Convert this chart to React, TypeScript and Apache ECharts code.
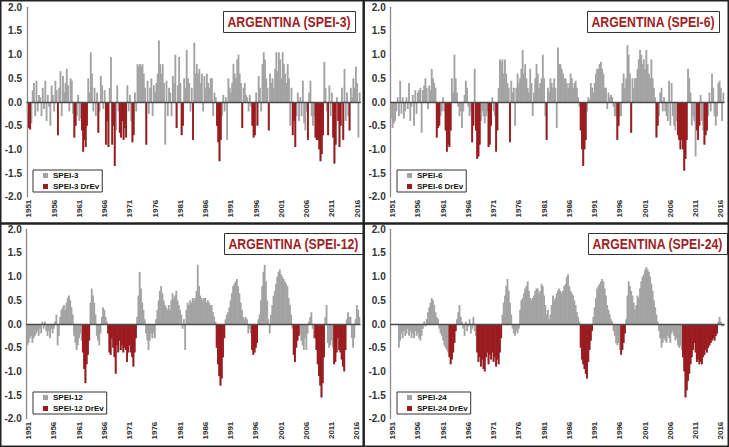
import React, { useEffect, useRef } from "react";
import * as echarts from "echarts";

// ---- categories: quarters 1951Q1 .. 2016Q4 ----
const QUARTERS = ["Q1", "Q2", "Q3", "Q4"];
const YEARS = Array.from({ length: 66 }, (_, i) => 1951 + i);
const categories = YEARS.flatMap((y) => QUARTERS.map((q) => `${y}${q}`));

// ---- SPEI-3 (quarterly) ----
const spei3 = [
  -0.25, -0.55,
  -0.58, -0.45, 0.25, 0.40, -0.30, 0.45, -0.20, 0.15, 0.10, -0.30, 0.30, -0.15,
  0.45, -0.40, 0.15, -0.10, -0.50, 0.35, 0.15, -0.20, 0.45, 0.25, -0.70, 0.30,
  0.65, -0.30, 0.55, 0.20, 0.40, 0.70, 0.35, -0.20, 0.50, 0.45, -0.25, -0.75,
  -0.50, -0.30, 0.15, -0.40, -0.35, -0.60, -1.05, -0.80, -0.95, -0.50, 0.50, 0.20,
  1.05, 0.60, -0.20, 0.30, -0.30, 0.20, -0.65, -0.20, 0.55, 0.35, -0.15, 0.25,
  -0.90, -0.40, -0.95, 0.30, 0.95, -0.90, -0.50, -1.35, -0.60, 0.35, -0.20, -0.65,
  -0.75, -0.40, -0.80, -0.55, -0.75, 0.35, -0.20, 0.15, -0.40, -0.85, -0.70, 0.20,
  -0.20, 0.80, 0.75, 0.80, 0.75, 0.80, 0.60, 0.30, -0.90, 0.45, -0.25, 0.30,
  0.50, -0.30, 0.35, 0.20, 0.40, 0.60, 1.30, 0.80, 0.60, 0.80, 0.40, -0.90,
  0.45, -0.30, 0.30, 0.20, -0.30, 0.55, 0.40, 1.00, -0.55, 0.35, 0.95, 0.40,
  -0.70, -0.50, 0.50, 0.30, 1.10, 0.50, 0.40, -0.20, 0.30, -0.80, 1.25, 0.60,
  0.80, 0.60, 0.70, 0.40, 0.60, -0.20, 0.55, 0.30, 0.60, 0.40, 0.30, 0.50,
  0.50, -0.30, 0.20, 0.10, -0.50, -0.85, -1.25, -0.80, -0.30, 0.15, -0.20, 0.10,
  -0.80, 0.50, 0.30, 0.20, 0.40, 0.80, 0.60, 0.50, 0.90, 1.00, 0.60, 0.40,
  -0.55, 0.30, 0.40, 0.15, 0.10, -0.20, 0.15, -0.10, -0.50, -0.75, -0.70, 0.20,
  -0.50, 0.55, 0.30, -0.20, 0.80, 1.05, 0.90, 0.50, 0.30, -0.60, 0.60, 0.40,
  0.50, 0.30, 0.70, 1.05, 0.65, 1.05, 0.90, 0.50, 1.05, 0.80, 0.60, 0.40,
  0.80, 0.50, -0.50, 0.30, -0.70, -0.40, -0.95, -0.30, 0.20, -0.40, 0.10, -0.30,
  0.45, -0.45, -0.60, -0.20, -0.80, 0.20, 0.45, -0.30, -0.50, -0.30, -0.75, -0.80,
  -0.80, -1.00, -1.25, -1.10, -0.70, 0.85, 0.30, -0.20, -0.70, 0.35, -0.30, 0.20,
  -0.75, -1.30, -0.90, 0.10, -0.40, -0.95, -0.50, 0.30, -0.80, 0.70, -0.40, 0.20,
  -0.30, -0.60, 0.30, 0.10, 0.50, 0.30, 0.75, 0.40,
  -0.75, 0.20,
];
const spei3Events = [
  ["1951Q2", "1951Q3"], ["1957Q1", "1957Q1"], ["1960Q2", "1960Q3"], ["1961Q4", "1962Q4"],
  ["1965Q1", "1965Q1"], ["1966Q3", "1967Q1"], ["1967Q4", "1968Q2"], ["1969Q2", "1970Q3"],
  ["1971Q4", "1972Q1"], ["1974Q3", "1974Q3"], ["1980Q3", "1980Q3"], ["1981Q3", "1981Q4"],
  ["1983Q4", "1983Q4"], ["1988Q3", "1989Q2"], ["1993Q3", "1993Q3"], ["1995Q3", "1996Q3"],
  ["1998Q4", "1998Q4"], ["2003Q3", "2004Q1"], ["2006Q3", "2006Q3"], ["2008Q1", "2009Q3"],
  ["2010Q3", "2010Q3"], ["2011Q3", "2012Q1"], ["2012Q3", "2013Q1"], ["2013Q3", "2013Q3"],
  ["2014Q4", "2014Q4"],
];

// ---- SPEI-6 ----
const spei6 = [
  -0.35, -0.55,
  -0.45, -0.40, -0.20, 0.10, -0.30, 0.45, -0.25, 0.10, -0.35, -0.20, 0.10, -0.15,
  0.40, -0.40, -0.10, 0.15, -0.50, 0.25, -0.25, 0.20, 0.25, 0.30, -0.65, 0.25,
  0.35, 0.50, 0.30, -0.15, 0.35, 0.25, 0.70, 0.50, 0.40, 0.30, -0.75, -0.55,
  -0.50, -0.30, -0.20, 0.10, -0.20, -0.60, -1.05, -0.90, -0.95, -0.60, 0.50, 0.20,
  1.00, 0.50, 0.20, -0.10, -0.30, -0.20, -0.55, -0.20, 0.15, 0.45, 0.30, -0.10,
  -0.30, -0.20, -0.85, -0.50, 0.70, -0.60, -1.20, -1.15, -0.90, -0.40, -0.20, -0.30,
  -0.45, -0.30, -0.20, -0.95, -0.90, -0.50, 0.10, -0.20, -0.30, -1.05, -0.60, 0.30,
  0.90, 0.85, 0.90, 0.60, 0.90, 0.60, 0.40, 0.30, -0.85, 0.45, 0.20, 0.30,
  -0.50, 0.30, 0.60, 0.40, 0.50, 0.70, 1.10, 0.60, 0.80, 0.50, 0.30, 0.20,
  0.70, 0.40, -0.30, 0.20, 0.50, 0.80, 0.60, 0.30, 0.40, 0.50, 1.00, 0.50,
  -0.30, -0.80, 0.30, 0.20, 0.50, 0.40, 0.30, 0.50, 0.30, -0.55, 1.15, 0.80,
  0.80, 0.70, 0.60, 0.50, 0.50, 0.40, 0.30, 0.40, 0.60, 0.50, 0.30, 0.40,
  0.45, 0.30, 0.10, -0.10, -0.60, -1.00, -1.35, -1.00, -0.80, -0.20, 0.10, 0.05,
  0.40, 0.30, 0.20, 0.40, 0.60, 0.70, 0.70, 0.80, 0.85, 0.70, 0.60, 0.30,
  0.30, -0.15, 0.20, 0.10, 0.15, 0.10, -0.10, -0.30, -0.30, -0.80, -0.50, -0.30,
  -0.30, 0.40, 0.60, 0.30, 0.50, 1.20, 1.00, 0.60, -0.65, 0.50, 0.30, 0.50,
  0.50, 0.70, 0.90, 1.10, 1.00, 0.80, 0.90, 0.70, 1.10, 0.80, 0.60, 0.50,
  0.90, 0.50, 0.30, 0.10, -0.75, -0.50, -0.30, 0.20, 0.30, -0.20, 0.10, -0.20,
  -0.30, -0.40, 0.45, -0.50, 0.40, -0.30, -0.50, -0.60, -0.40, -0.70, -0.80, -1.00,
  -0.80, -1.00, -1.45, -1.20, -0.80, 0.70, 0.50, 0.20, -0.50, -0.30, -0.40, -1.15,
  -0.60, -0.80, -0.50, 0.15, -0.40, -0.60, -0.90, -0.70, -0.60, -0.30, 0.20, -0.20,
  0.60, 0.30, -0.30, -0.50, -0.30, 0.40, 0.45, 0.30,
  -0.40, 0.20,
];
const spei6Events = [
  ["1960Q1", "1960Q3"], ["1961Q4", "1962Q4"], ["1967Q1", "1967Q2"], ["1967Q4", "1968Q3"],
  ["1970Q2", "1970Q4"], ["1971Q4", "1972Q1"], ["1974Q3", "1974Q3"], ["1981Q4", "1981Q4"],
  ["1988Q3", "1989Q3"], ["1995Q4", "1996Q1"], ["1998Q3", "1998Q3"], ["2003Q3", "2003Q4"],
  ["2007Q4", "2009Q3"], ["2011Q3", "2012Q1"], ["2013Q1", "2013Q3"],
];

// ---- SPEI-12 (one row per year) ----
const spei12 = [
  -0.45, -0.40, -0.30, -0.25, // 1951
  -0.40, -0.30, -0.25, -0.20,
  -0.15, -0.25, -0.10, -0.20,
  0.05, -0.10, 0.05, -0.15,
  -0.25, -0.15, -0.30, -0.10, // 1955
  -0.20, -0.10, 0.05, 0.20,
  -0.45, -0.25, 0.15, 0.30,
  0.35, 0.40, 0.30, 0.45,
  0.55, 0.60, 0.50, 0.35,
  0.20, -0.25, -0.40, -0.55, // 1960
  -0.45, -0.30, -0.20, -0.35,
  -0.60, -0.95, -1.25, -0.85,
  -0.65, -0.35, 0.45, 0.75,
  0.60, 0.45, 0.20, -0.25,
  -0.35, -0.45, -0.20, 0.15, // 1965
  0.35, 0.30, 0.15, 0.05,
  -0.20, -0.60, -0.65, -0.30,
  -0.50, -0.70, -1.05, -0.45,
  -0.60, -0.35, -0.55, -0.45,
  -0.60, -0.50, -0.55, -0.80, // 1970
  -0.60, -0.45, -0.60, -0.70,
  -0.90, -0.60, -0.30, 0.15,
  0.60, 1.10, 0.75, 0.45,
  0.30, 0.10, -0.20, -0.35,
  -0.55, -0.35, -0.20, -0.30, // 1975
  -0.20, -0.30, 0.10, 0.30,
  0.50, 0.70, 0.80, 0.65,
  0.50, 0.40, 0.35, 0.30,
  0.40, 0.30, 0.50, 0.65,
  0.55, 0.60, 0.70, 0.50, // 1980
  0.40, 0.30, 0.20, -0.10,
  0.10, -0.55, 0.30, 0.45,
  0.40, 0.50, 0.45, 0.55,
  0.50, 0.55, 0.70, 1.25,
  0.80, 0.60, 0.55, 0.50, // 1985
  0.55, 0.55, 0.45, 0.50,
  0.45, 0.40, 0.40, 0.25,
  0.15, 0.05, -0.50, -0.85,
  -1.10, -1.30, -1.15, -0.70,
  -0.30, 0.10, 0.20, 0.25, // 1990
  0.35, 0.50, 0.65, 0.80,
  0.85, 0.90, 0.95, 0.80,
  0.65, 0.45, 0.30, 0.15,
  0.10, 0.15, 0.10, -0.20,
  -0.10, -0.20, -0.55, -0.65, // 1995
  -0.60, -0.50, -0.40, 0.10,
  0.20, 0.50, 0.80, 1.10,
  1.25, 0.90, 0.50, 0.10,
  -0.20, 0.20, 0.40, 0.60,
  0.70, 0.85, 1.00, 1.10, // 2000
  1.15, 1.05, 1.00, 0.95,
  0.90, 0.85, 0.80, 0.55,
  0.40, 0.20, -0.10, -0.65,
  -0.80, -0.50, -0.35, -0.25,
  -0.20, -0.35, -0.45, -0.55, // 2005
  -0.30, -0.55, -0.20, 0.05,
  0.15, 0.25, -0.10, -0.30,
  -0.30, -0.55, -0.85, -1.10,
  -1.30, -1.55, -1.25, -0.70,
  0.15, 0.40, -0.40, -0.50, // 2010
  -0.45, -0.35, -0.50, -0.85,
  -0.80, -0.60, -0.30, -0.55,
  -0.60, -0.75, -0.90, -1.00,
  -0.55, 0.10, 0.25, 0.15,
  0.15, -0.30, -0.50, -0.30, // 2015
  0.10, 0.40, 0.30, 0.15,
];
const spei12Events = [
  ["1962Q1", "1963Q2"], ["1967Q1", "1972Q3"], ["1988Q3", "1990Q1"], ["1995Q3", "1996Q3"],
  ["2003Q4", "2004Q4"], ["2008Q1", "2009Q4"], ["2011Q4", "2014Q1"],
];

// ---- SPEI-24 (one row per year; first months undefined) ----
const spei24 = [
  null, null, null, null, // 1951
  null, null, -0.50, -0.35,
  -0.20, -0.30, -0.15, -0.25,
  -0.20, -0.10, -0.25, -0.15,
  -0.30, -0.20, -0.30, -0.15, // 1955
  -0.25, -0.20, -0.30, -0.35,
  -0.25, -0.10, 0.05, -0.05,
  0.10, 0.25, 0.35, 0.45,
  0.55, 0.50, 0.40, 0.25,
  0.15, 0.10, -0.10, -0.20, // 1960
  -0.25, -0.35, -0.45, -0.50,
  -0.55, -0.60, -0.70, -0.85,
  -0.75, -0.60, -0.40, -0.15,
  0.10, 0.25, 0.40, 0.15,
  0.05, -0.10, -0.25, 0.05, // 1965
  -0.15, -0.05, 0.10, -0.20,
  -0.10, 0.15, -0.15, -0.25,
  -0.60, -0.80, -0.70, -0.90,
  -0.75, -0.95, -1.00, -0.70,
  -0.60, -0.85, -0.65, -0.75, // 1970
  -0.60, -0.80, -0.70, -0.90,
  -0.75, -0.85, -0.60, -0.30,
  0.20, 0.45, 0.60, 0.80,
  0.95, 0.70, 0.45, 0.20,
  -0.10, -0.20, -0.25, -0.15, // 1975
  -0.20, -0.10, 0.30, 0.50,
  0.55, 0.65, 0.75, 0.80,
  0.90, 0.70, 0.55, 0.50,
  0.55, 0.60, 0.70, 0.75,
  0.75, 0.65, 0.70, 0.85, // 1980
  0.80, 0.60, 0.40, 0.20,
  0.30, 0.10, 0.20, 0.40,
  0.60, 0.50, 0.55, 0.65,
  0.70, 0.75, 0.70, 0.65,
  0.70, 0.80, 0.85, 1.00, // 1985
  1.05, 0.80, 0.70, 0.65,
  0.60, 0.50, 0.40, 0.25,
  0.15, 0.05, -0.50, -0.75,
  -0.85, -0.95, -1.05, -1.15,
  -0.80, -0.55, -0.35, -0.15, // 1990
  0.15, 0.35, 0.55, 0.75,
  0.80, 0.85, 0.90, 0.95,
  0.90, 0.75, 0.60, 0.40,
  0.30, 0.20, 0.10, 0.05,
  -0.15, -0.25, -0.40, -0.45, // 1995
  -0.40, -0.55, -0.65, -0.55,
  -0.40, -0.20, 0.10, 0.60,
  0.90, 0.80, 0.70, 0.60,
  0.45, 0.30, 0.40, 0.60,
  0.55, 0.75, 0.90, 1.00, // 2000
  1.05, 1.15, 1.20, 1.15,
  1.10, 1.00, 0.85, 0.70,
  0.50, 0.35, 0.20, 0.05,
  -0.15, -0.30, -0.50, -0.40,
  -0.30, -0.35, -0.40, -0.25, // 2005
  -0.30, -0.40, -0.20, -0.15,
  -0.25, -0.35, -0.30, -0.45,
  -0.50, -0.45, -0.55, -0.70,
  -1.00, -1.55, -1.40, -1.20,
  -1.05, -0.85, -0.70, -0.55, // 2010
  -0.40, -0.60, -0.80, -0.75,
  -0.85, -0.80, -0.85, -0.70,
  -0.65, -0.55, -0.60, -0.50,
  -0.45, -0.40, -0.35, -0.30,
  -0.35, -0.25, -0.20, 0.05, // 2015
  0.15, 0.05, -0.05, -0.05,
];
const spei24Events = [
  ["1962Q3", "1963Q4"], ["1968Q1", "1972Q4"], ["1988Q3", "1990Q4"], ["1996Q3", "1997Q2"],
  ["2008Q4", "2015Q3"],
];

// ---- layout & style (kept apart from the data) ----
const GRAY = "#a3a3a3";
const RED = "#9b1b1f";
const TITLE_RED = "#9e1f26";
const FONT = "'Liberation Sans', Arial, sans-serif";
const TITLE_SIZE = 15;
const TITLE_SCALE = 0.82;
const BAR_OVERLAP = 0.6; // px added to each bar so that neighbouring bars meet without seams

const panels = [
  { key: "SPEI-3", values: spei3, events: spei3Events, left: 27, top: 7.3, titleLeft: 223, titleTop: 11, legendLeft: 33, legendTop: 170 },
  { key: "SPEI-6", values: spei6, events: spei6Events, left: 390.7, top: 7.3, titleLeft: 587, titleTop: 11, legendLeft: 397, legendTop: 170 },
  { key: "SPEI-12", values: spei12, events: spei12Events, left: 26.7, top: 229.3, titleLeft: 224, titleTop: 233, legendLeft: 33, legendTop: 392 },
  { key: "SPEI-24", values: spei24, events: spei24Events, left: 390.7, top: 229.3, titleLeft: 588, titleTop: 233, legendLeft: 397, legendTop: 392 },
];

function droughtPoints(values: (number | null)[], events: string[][]) {
  const ranges = events.map(([a, b]) => [categories.indexOf(a), categories.indexOf(b)]);
  const out: [number, number][] = [];
  values.forEach((v, i) => {
    if (v != null && v < 0 && ranges.some(([a, b]) => i >= a && i <= b)) out.push([i, v]);
  });
  return out;
}

function allPoints(values: (number | null)[]) {
  const out: [number, number][] = [];
  values.forEach((v, i) => {
    if (v != null) out.push([i, v]);
  });
  return out;
}

function barRenderer(color: string) {
  return (params: any, api: any) => {
    const idx = api.value(0);
    const v = api.value(1);
    const base = api.coord([idx, 0]);
    const top = api.coord([idx, v]);
    const w = api.size([1, 0])[0];
    return {
      type: "rect",
      shape: {
        x: base[0] - w / 2 - BAR_OVERLAP / 2,
        y: Math.min(base[1], top[1]),
        width: w + BAR_OVERLAP,
        height: Math.abs(top[1] - base[1]),
      },
      style: { fill: color },
    };
  };
}

function measure(text: string, font: string) {
  const c = document.createElement("canvas").getContext("2d");
  if (!c) return text.length * 9;
  c.font = font;
  return c.measureText(text).width;
}

function titleGraphic(p: any) {
  const text = `ARGENTINA (${p.key})`;
  const w = measure(text, `bold ${TITLE_SIZE}px 'Liberation Sans', Arial, sans-serif`) * TITLE_SCALE;
  return {
    type: "group",
    x: p.titleLeft,
    y: p.titleTop,
    z: 50,
    children: [
      { type: "rect", shape: { x: 0.5, y: 0.5, width: Math.round(w + 8), height: 21 }, style: { fill: "#fff", stroke: "#333", lineWidth: 1 } },
      {
        type: "text",
        x: 4.5,
        y: 11.5,
        scaleX: TITLE_SCALE,
        style: {
          text,
          fill: TITLE_RED,
          font: `bold ${TITLE_SIZE}px 'Liberation Sans', Arial, sans-serif`,
          textAlign: "left",
          textVerticalAlign: "middle",
          verticalAlign: "middle",
        },
      },
    ],
  };
}

function buildOption() {
  const xAxis: any[] = [];
  panels.forEach((p, i) => {
    xAxis.push({
      type: "category",
      gridIndex: i,
      data: categories,
      position: "bottom",
      axisLine: { show: false, onZero: false },
      axisTick: { show: false },
      axisLabel: {
        rotate: 90,
        interval: (idx: number) => idx % 20 === 1,
        formatter: (v: string) => v.slice(0, 4),
        fontSize: 8,
        fontWeight: "bold",
        color: "#333",
        margin: 3,
        fontFamily: FONT,
      },
      splitLine: { show: false },
    });
    xAxis.push({
      type: "category",
      gridIndex: i,
      data: categories,
      position: "bottom",
      z: 10,
      axisLine: { show: true, onZero: true, lineStyle: { color: "#4a4a4a", width: 1.4 } },
      axisTick: { show: false },
      axisLabel: { show: false },
      splitLine: { show: false },
    });
  });

  const series: any[] = [];
  panels.forEach((p, i) => {
    series.push({
      name: p.key,
      type: "custom",
      xAxisIndex: i * 2,
      yAxisIndex: i,
      data: allPoints(p.values),
      encode: { x: 0, y: 1 },
      itemStyle: { color: GRAY },
      renderItem: barRenderer(GRAY),
      z: 2,
    });
    series.push({
      name: p.key + " DrEv",
      type: "custom",
      xAxisIndex: i * 2,
      yAxisIndex: i,
      data: droughtPoints(p.values, p.events),
      encode: { x: 0, y: 1 },
      itemStyle: { color: RED },
      renderItem: barRenderer(RED),
      z: 3,
    });
  });

  return {
    animation: false,
    backgroundColor: "#ffffff",
    textStyle: { fontFamily: FONT },
    legend: panels.map((p) => ({
      orient: "vertical",
      left: p.legendLeft,
      top: p.legendTop,
      data: [
        { name: p.key, icon: "rect", itemStyle: { color: GRAY } },
        { name: p.key + " DrEv", icon: "rect", itemStyle: { color: RED } },
      ],
      icon: "rect",
      itemWidth: 5,
      itemHeight: 5,
      itemGap: 2,
      padding: [1, 3, 1, 10],
      borderColor: "#333",
      borderWidth: 1,
      backgroundColor: "#fff",
      selectedMode: false,
      textStyle: { fontSize: 8, fontWeight: "bold", color: "#111", lineHeight: 9, fontFamily: FONT },
    })),
    grid: panels.map((p) => ({ left: p.left, top: p.top, width: 333.3, height: 189.4 })),
    xAxis,
    yAxis: panels.map((p, i) => ({
      type: "value",
      gridIndex: i,
      min: -2,
      max: 2,
      interval: 0.5,
      axisLine: { show: true, lineStyle: { color: "#8c8c8c", width: 1.3 } },
      axisTick: { show: false },
      splitLine: { show: false },
      axisLabel: {
        formatter: (v: number) => v.toFixed(1),
        fontSize: 10,
        fontWeight: "bold",
        color: "#333",
        margin: 5,
        fontFamily: FONT,
      },
    })),
    series,
    graphic: [
      ...panels.map(titleGraphic),
      { type: "rect", z: 100, shape: { x: 0.75, y: 0.75, width: 727.5, height: 445.5 }, style: { fill: "none", stroke: "#222", lineWidth: 1.5 } },
      { type: "line", z: 100, shape: { x1: 363.7, y1: 0, x2: 363.7, y2: 447 }, style: { stroke: "#222", lineWidth: 2.5 } },
      { type: "line", z: 100, shape: { x1: 0, y1: 223.5, x2: 729, y2: 223.5 }, style: { stroke: "#222", lineWidth: 2.5 } },
    ],
  };
}

export default function App() {
  const ref = useRef<HTMLDivElement>(null);
  useEffect(() => {
    if (!ref.current) return;
    const chart = echarts.init(ref.current, null, { renderer: "svg" });
    chart.setOption(buildOption() as any);
    return () => chart.dispose();
  }, []);
  return (
    <div
      ref={ref}
      style={{ position: "fixed", left: 0, top: 0, width: 729, height: 447, background: "#fff" }}
    />
  );
}
